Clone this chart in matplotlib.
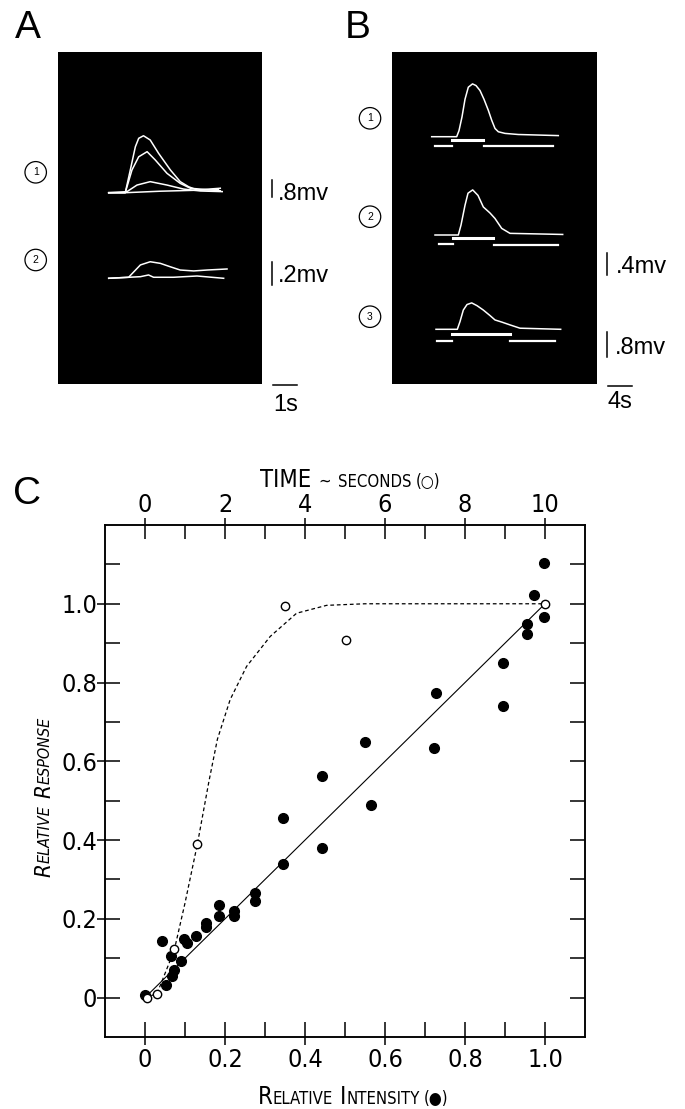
import matplotlib
matplotlib.use('Agg')
import matplotlib.pyplot as plt
from matplotlib import font_manager as fm
from matplotlib.lines import Line2D
from matplotlib.ticker import FixedLocator, FixedFormatter, NullFormatter
import numpy as np

# ---------------- data ----------------
# Panel A (time s, amplitude mV)
A1_t = [[2.10, 2.79, 3.00, 3.21, 3.35, 3.55, 3.83, 4.18, 4.67, 5.08, 5.43, 5.78, 6.75],
        [2.10, 2.79, 3.07, 3.35, 3.70, 4.04, 4.53, 5.08, 5.50, 6.75],
        [2.10, 2.86, 3.28, 3.83, 4.53, 5.22, 5.92, 6.83],
        [2.10, 2.79, 4.25, 5.92, 6.67]]
A1_v = [[0, 0, 1.07, 2.16, 2.56, 2.68, 2.48, 1.85, 1.07, 0.52, 0.28, 0.13, 0.21],
        [0, 0, 1.07, 1.69, 1.93, 1.54, 0.91, 0.44, 0.21, 0.09],
        [0, 0.05, 0.36, 0.52, 0.36, 0.17, 0.08, 0.05],
        [0, 0, 0.07, 0.12, 0.14]]
A2_t = [[2.10, 2.93, 3.42, 3.83, 4.25, 4.67, 5.08, 5.64, 6.20, 7.03],
        [2.10, 3.42, 3.76, 3.97, 4.80, 5.78, 6.89]]
A2_v = [[0, 0.009, 0.116, 0.144, 0.13, 0.10, 0.072, 0.064, 0.072, 0.081],
        [0, 0.014, 0.029, 0.009, 0.009, 0.02, 0]]

# Panel B (time s, amplitude mV)
B_t = [[6.35, 10.35, 10.72, 11.20, 11.68, 12.21, 12.88, 13.44, 14.08, 14.72, 15.41, 15.95, 16.48, 17.01, 18.08, 20.21, 26.61],
       [6.88, 10.61, 11.04, 11.68, 12.16, 12.91, 13.76, 14.61, 15.68, 16.48, 17.55, 18.88, 27.31],
       [7.04, 10.45, 10.88, 11.41, 12.00, 12.75, 13.60, 14.61, 15.68, 16.48, 17.60, 18.88, 20.48, 26.99]]
B_v = [[0, 0, 0.11, 0.36, 0.68, 0.90, 0.96, 0.93, 0.84, 0.68, 0.48, 0.30, 0.15, 0.09, 0.06, 0.04, 0.02],
       [0, 0, 0.18, 0.54, 0.76, 0.82, 0.72, 0.51, 0.40, 0.30, 0.12, 0.03, 0.01],
       [0, 0, 0.14, 0.35, 0.45, 0.48, 0.43, 0.35, 0.25, 0.17, 0.13, 0.08, 0.02, 0]]
# stimulus marker segments (s): before, during, after
B_pre = [(6.88, 9.55), (7.57, 9.71), (7.15, 9.55)]
B_on = [(9.65, 14.60), (9.71, 16.21), (9.55, 18.88)]
B_post = [(14.70, 25.80), (16.32, 26.60), (18.88, 26.08)]

# Panel C
int_x = [0.998, 0.973, 0.998, 0.954, 0.954, 0.894, 0.894, 0.727, 0.723, 0.551, 0.565,
         0.443, 0.443, 0.345, 0.345, 0.275, 0.275, 0.223, 0.223, 0.186, 0.186, 0.153,
         0.153, 0.128, 0.098, 0.106, 0.043, 0.065, 0.089, 0.073, 0.067, 0.053, 0.0]
int_y = [1.103, 1.023, 0.966, 0.949, 0.922, 0.850, 0.741, 0.773, 0.633, 0.649, 0.489,
         0.563, 0.379, 0.455, 0.340, 0.265, 0.246, 0.219, 0.208, 0.236, 0.207, 0.190,
         0.179, 0.156, 0.148, 0.138, 0.143, 0.106, 0.092, 0.069, 0.055, 0.033, 0.006]
time_t = [0.05, 0.29, 0.73, 1.31, 3.5, 5.02, 10.0]
time_y = [0.0, 0.008, 0.124, 0.391, 0.995, 0.909, 1.0]
fit_x = [0.01, 1.0]
fit_y = [0.01, 1.0]
curve_t = [0.0, 0.3, 0.73, 1.0, 1.31, 1.6, 1.81, 2.13, 2.54, 3.13, 3.79, 4.54, 5.5, 10.0]
curve_y = [0.0, 0.01, 0.12, 0.24, 0.39, 0.55, 0.656, 0.757, 0.841, 0.917, 0.976, 0.996, 1.0, 1.0]

x_major = [0, 0.2, 0.4, 0.6, 0.8, 1.0]
x_major_lbl = ['0', '0.2', '0.4', '0.6', '0.8', '1.0']
x_minor = [0, 0.1, 0.2, 0.3, 0.4, 0.5, 0.6, 0.7, 0.8, 0.9, 1.0]
y_major = [0, 0.2, 0.4, 0.6, 0.8, 1.0]
y_major_lbl = ['0', '0.2', '0.4', '0.6', '0.8', '1.0']
y_minor = [0, 0.1, 0.2, 0.3, 0.4, 0.5, 0.6, 0.7, 0.8, 0.9, 1.0, 1.1]
t_major = [0, 2, 4, 6, 8, 10]
t_major_lbl = ['0', '2', '4', '6', '8', '10']
t_minor = [0, 1, 2, 3, 4, 5, 6, 7, 8, 9, 10]

# ---------------- setup ----------------
W, H = 685, 1109
fig = plt.figure(figsize=(W / 100, H / 100), dpi=100)
fig.patch.set_facecolor('white')

names = {f.name for f in fm.fontManager.ttflist}
if 'Liberation Sans Narrow' in names:
    HAND, STRETCH = 'Liberation Sans Narrow', 'normal'
else:
    HAND, STRETCH = 'DejaVu Sans', 'condensed'
SANS = 'Liberation Sans' if 'Liberation Sans' in names else 'DejaVu Sans'


def fx(px):
    return px / W


def fy(py):
    return 1 - py / H


def rect(l, t, r, b):
    return [fx(l), fy(b), (r - l) / W, (b - t) / H]


def black_panel(box, xmax, ymax):
    ax = fig.add_axes(rect(*box))
    ax.set_facecolor('black')
    ax.set_xticks([])
    ax.set_yticks([])
    for s in ax.spines.values():
        s.set_visible(False)
    ax.set_xlim(0, xmax)
    ax.set_ylim(0, ymax)
    return ax


def circ_num(x, y, s):
    fig.text(fx(x), fy(y), s, ha='center', va='center', fontsize=7.5, family=SANS,
             bbox=dict(boxstyle='circle,pad=0.55', fc='white', ec='black', lw=0.9))


def vbar(x, y0, y1, label, tx, ty):
    fig.add_artist(Line2D([fx(x), fx(x)], [fy(y0), fy(y1)], transform=fig.transFigure,
                          color='black', lw=1.1))
    fig.text(fx(tx), fy(ty), label, fontsize=17, family=SANS, ha='left', va='baseline')


def hbar(x0, x1, y, label, tx, ty):
    fig.add_artist(Line2D([fx(x0), fx(x1)], [fy(y), fy(y)], transform=fig.transFigure,
                          color='black', lw=1.1))
    fig.text(fx(tx), fy(ty), label, fontsize=17, family=SANS, ha='left', va='baseline')


# ---------------- Panel A ----------------
axA = black_panel((58.3, 51.7, 261.7, 384), 203.4 / 24.0, 332.3)
A_base = [191.3, 105.7]
A_gain = [17 / 0.8, 23 / 0.2]
for t, v in zip(A1_t, A1_v):
    axA.plot(t, A_base[0] + np.array(v) * A_gain[0], color='white', lw=1.1)
for t, v in zip(A2_t, A2_v):
    axA.plot(t, A_base[1] + np.array(v) * A_gain[1], color='white', lw=1.1)

fig.text(fx(15), fy(38), 'A', fontsize=28, family=SANS, ha='left', va='baseline')
circ_num(35.7, 172.3, '1')
circ_num(35.7, 260, '2')
vbar(271.7, 180, 197, '.8mv', 278, 200)
vbar(271.7, 261.7, 285, '.2mv', 278, 282)
hbar(273, 296.7, 385, '1s', 273, 411)

# ---------------- Panel B ----------------
axB = black_panel((392, 52, 597, 384), 205 / 6.25, 332)
B_base = [247.3, 149.0, 54.7]
B_gain = 22 / 0.4
B_off = [(9, 3.3, 9.6), (9, 3.3, 10), (11.4, 5, 11.7)]
for i in range(3):
    axB.plot(B_t[i], B_base[i] + np.array(B_v[i]) * B_gain, color='white', lw=1.1)
    o = B_off[i]
    axB.plot(B_pre[i], [B_base[i] - o[0]] * 2, color='white', lw=1.6)
    axB.plot(B_on[i], [B_base[i] - o[1]] * 2, color='white', lw=2.2)
    axB.plot(B_post[i], [B_base[i] - o[2]] * 2, color='white', lw=1.6)

fig.text(fx(345), fy(38), 'B', fontsize=28, family=SANS, ha='left', va='baseline')
circ_num(370, 118.3, '1')
circ_num(370, 216.7, '2')
circ_num(370, 316.7, '3')
vbar(606.7, 253, 275, '.4mv', 616, 273)
vbar(606.7, 331.7, 356.7, '.8mv', 615, 354)
hbar(608.3, 631.7, 385.7, '4s', 607, 408)

# ---------------- Panel C ----------------
fig.text(fx(13), fy(504), 'C', fontsize=28, family=SANS, ha='left', va='baseline')

axC = fig.add_axes(rect(105, 525, 585, 1037))
axC.set_xlim(-0.1, 1.1)
axC.set_ylim(-0.1, 1.2)
axT = axC.twiny()
axT.set_xlim(-1, 11)

PX = 0.72  # points per pixel
for ax in (axC, axT):
    for s in ax.spines.values():
        s.set_linewidth(1.1)

axC.xaxis.remove_overlapping_locs = False
axC.yaxis.remove_overlapping_locs = False
axT.xaxis.remove_overlapping_locs = False
axC.xaxis.set_major_locator(FixedLocator(x_major))
axC.xaxis.set_major_formatter(FixedFormatter(x_major_lbl))
axC.xaxis.set_minor_locator(FixedLocator(x_minor))
axC.xaxis.set_minor_formatter(NullFormatter())
axC.yaxis.set_major_locator(FixedLocator(y_major))
axC.yaxis.set_major_formatter(FixedFormatter(y_major_lbl))
axC.yaxis.set_minor_locator(FixedLocator(y_minor))
axC.yaxis.set_minor_formatter(NullFormatter())
axT.xaxis.set_major_locator(FixedLocator(t_major))
axT.xaxis.set_major_formatter(FixedFormatter(t_major_lbl))
axT.xaxis.set_minor_locator(FixedLocator(t_minor))
axT.xaxis.set_minor_formatter(NullFormatter())

axC.tick_params(axis='x', which='major', bottom=True, top=False, direction='out',
                length=8 * PX, width=1.1, pad=2)
axC.tick_params(axis='x', which='minor', bottom=True, top=False, direction='in',
                length=15 * PX, width=1.1)
axC.tick_params(axis='y', which='major', left=True, right=False, direction='out',
                length=8 * PX, width=1.1, pad=0)
axC.tick_params(axis='y', which='minor', left=True, right=True, direction='in',
                length=15 * PX, width=1.1)
axT.tick_params(axis='x', which='major', top=True, bottom=False, direction='out',
                length=7 * PX, width=1.1, pad=0.5)
axT.tick_params(axis='x', which='minor', top=True, bottom=False, direction='in',
                length=14 * PX, width=1.1)

for lbl in axC.get_xticklabels() + axC.get_yticklabels() + axT.get_xticklabels():
    lbl.set_family(HAND)
    lbl.set_fontstretch(STRETCH)
    lbl.set_fontsize(18)

axC.plot(fit_x, fit_y, color='black', lw=0.8, zorder=2)
axC.plot(int_x, int_y, 'o', ms=7, color='black', mec='black', zorder=3)
axT.plot(curve_t, curve_y, color='black', lw=0.9, ls=(0, (3, 2.2)), zorder=2)
axT.plot(time_t, time_y, 'o', ms=6, mfc='white', mec='black', mew=1.0, zorder=4)

# small-caps axis labels
CAPSFAM = [HAND, 'DejaVu Sans']
renderer = fig.canvas.get_renderer()


def caps(pieces, x, y, rotation=0, style='normal'):
    ws = []
    for s, sz in pieces:
        if s is None:
            ws.append(sz)
            continue
        t = fig.text(0, 0, s, fontsize=sz, family=CAPSFAM, fontstretch=STRETCH, style=style)
        ws.append(t.get_window_extent(renderer).width)
        t.remove()
    pos = -sum(ws) / 2
    for (s, sz), w in zip(pieces, ws):
        if s is not None:
            if rotation == 0:
                fig.text(fx(x + pos), fy(y), s, fontsize=sz, family=CAPSFAM,
                         fontstretch=STRETCH, style=style, ha='left', va='baseline')
            else:
                fig.text(fx(x), fy(y - pos), s, fontsize=sz, family=CAPSFAM,
                         fontstretch=STRETCH, style=style, ha='left', va='baseline',
                         rotation=90, rotation_mode='anchor')
        pos += w


BIG, SMALL, GAP = 17, 12, 7
caps([('TIME', BIG), (None, GAP), ('~', SMALL), (None, GAP), ('SECONDS', SMALL),
      (None, 4), ('(○)', SMALL)], 350, 487)
caps([('R', BIG), ('ELATIVE', SMALL), (None, GAP), ('I', BIG), ('NTENSITY', SMALL),
      (None, 4), ('(●)', SMALL)], 353, 1104)
caps([('R', 16), ('ELATIVE', 11.5), (None, GAP), ('R', 16), ('ESPONSE', 11.5)],
     50, 797, rotation=90, style='italic')

fig.savefig('out.png', dpi=100, facecolor='white')
